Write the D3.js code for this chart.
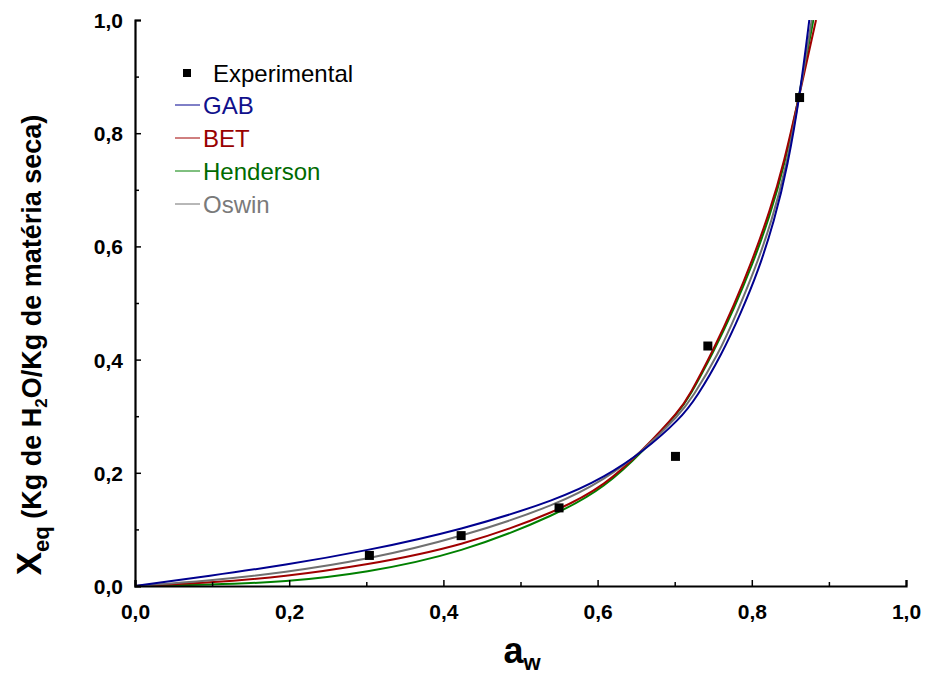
<!DOCTYPE html>
<html>
<head>
<meta charset="utf-8">
<script src="https://cdn.jsdelivr.net/npm/d3@7"></script>
<style>
  body { margin: 0; background: #fff; }
  svg { display: block; font-family: "Liberation Sans", Arial, sans-serif; }
</style>
</head>
<body>
<div id="container"></div>
<script>
// experimental points
let expAw = [0.304, 0.423, 0.550, 0.701, 0.743, 0.862];
let expX  = [0.054, 0.089, 0.138, 0.229, 0.424, 0.863];

// model curves
let gabAw = [0, 0.0973, 0.1946, 0.2983, 0.4228, 0.5503, 0.6096, 0.6589, 0.7069, 0.7285, 0.7610, 0.7860, 0.8080, 0.8292, 0.8466, 0.8625, 0.8746];
let gabX  = [0, 0.0180, 0.0370, 0.0618, 0.0988, 0.1535, 0.1928, 0.2370, 0.2950, 0.3330, 0.4090, 0.4830, 0.5550, 0.6450, 0.7420, 0.8680, 1.0];

let betAw = [0, 0.0973, 0.1946, 0.2983, 0.4228, 0.5503, 0.6096, 0.6589, 0.7069, 0.7185, 0.7510, 0.7769, 0.8003, 0.8236, 0.8418, 0.8612, 0.8833];
let betX  = [0, 0.0055, 0.0165, 0.0366, 0.0695, 0.1330, 0.1780, 0.2400, 0.3110, 0.3350, 0.4190, 0.4960, 0.5740, 0.6630, 0.7480, 0.8640, 1.0];

let hendAw = [0, 0.0973, 0.1946, 0.2983, 0.4228, 0.5503, 0.6096, 0.6589, 0.7069, 0.7185, 0.7510, 0.7769, 0.8003, 0.8236, 0.8418, 0.8612, 0.8798];
let hendX  = [0, 0.0020, 0.0070, 0.0230, 0.0580, 0.1280, 0.1750, 0.2380, 0.3100, 0.3330, 0.4150, 0.4900, 0.5660, 0.6540, 0.7400, 0.8640, 1.0];

let oswAw = [0, 0.0973, 0.1946, 0.2983, 0.4228, 0.5503, 0.6096, 0.6589, 0.7069, 0.7224, 0.7566, 0.7808, 0.8042, 0.8262, 0.8440, 0.8616, 0.8777];
let oswX  = [0, 0.0095, 0.0240, 0.0458, 0.0860, 0.1450, 0.1890, 0.2380, 0.3040, 0.3320, 0.4090, 0.4830, 0.5600, 0.6460, 0.7370, 0.8620, 1.0];

let majorTicks = [0, 0.2, 0.4, 0.6, 0.8, 1.0];
let minorTicks = [0.1, 0.3, 0.5, 0.7, 0.9];

let w = 927;
let h = 678;
let mLeft = 135, mRight = 906, mTop = 20, mBottom = 586;

let svg = d3.select("#container")
  .append("svg")
    .attr("width", w)
    .attr("height", h);

let x = d3.scaleLinear().domain([0, 1]).range([mLeft, mRight]);
let y = d3.scaleLinear().domain([0, 1]).range([mBottom, mTop]);

let fmt = d => d3.format(".1f")(d).replace(".", ",");

svg.append("clipPath").attr("id", "plot")
  .append("rect")
    .attr("x", mLeft).attr("y", mTop)
    .attr("width", mRight - mLeft).attr("height", mBottom - mTop);

// curves
let series = [
  { name: "GAB", aw: gabAw, xs: gabX, color: "#00008f", text: "#10108c" },
  { name: "BET", aw: betAw, xs: betX, color: "#a00000", text: "#990000" },
  { name: "Henderson", aw: hendAw, xs: hendX, color: "#008000", text: "#006a00" },
  { name: "Oswin", aw: oswAw, xs: oswX, color: "#707070", text: "#7a7a7a" }
];

let line = d3.line()
  .x(d => x(d[0]))
  .y(d => y(d[1]))
  .curve(d3.curveBasis);

let curves = svg.append("g").attr("clip-path", "url(#plot)");
// draw order: green, red, gray, blue on top
[2, 1, 3, 0].forEach(i => {
  let s = series[i];
  curves.append("path")
    .datum(s.aw.map((a, j) => [a, s.xs[j]]))
    .attr("fill", "none")
    .attr("stroke", s.color)
    .attr("stroke-width", 2)
    .attr("d", line);
});

// experimental squares
svg.append("g").selectAll("rect")
  .data(expAw.map((a, i) => [a, expX[i]]))
  .enter().append("rect")
    .attr("x", d => x(d[0]) - 4.5)
    .attr("y", d => y(d[1]) - 4.5)
    .attr("width", 9)
    .attr("height", 9)
    .attr("fill", "#000");

// axes
let xAxis = svg.append("g")
  .attr("transform", `translate(0,${mBottom})`)
  .call(d3.axisBottom(x).tickValues(majorTicks).tickFormat(fmt).tickSize(-6).tickPadding(14));
svg.append("g")
  .attr("transform", `translate(0,${mBottom})`)
  .call(d3.axisBottom(x).tickValues(minorTicks).tickFormat("").tickSize(-4))
  .select(".domain").remove();

let yAxis = svg.append("g")
  .attr("transform", `translate(${mLeft},0)`)
  .call(d3.axisLeft(y).tickValues(majorTicks).tickFormat(fmt).tickSize(-6).tickPadding(12));
svg.append("g")
  .attr("transform", `translate(${mLeft},0)`)
  .call(d3.axisLeft(y).tickValues(minorTicks).tickFormat("").tickSize(-4))
  .select(".domain").remove();

svg.selectAll(".domain").attr("stroke-width", 2.2);
svg.selectAll(".tick line").attr("stroke-width", 1.5);
svg.selectAll(".tick text")
  .attr("font-family", "Liberation Sans, Arial, sans-serif")
  .attr("font-size", 21)
  .attr("font-weight", "bold")
  .attr("fill", "#000");
xAxis.selectAll(".tick text").attr("dy", "0.9em");
yAxis.selectAll(".tick text").attr("dy", "0.36em");

// axis titles
let xt = svg.append("text")
  .attr("x", 522).attr("y", 663)
  .attr("text-anchor", "middle")
  .attr("font-weight", "bold")
  .attr("font-size", 36);
xt.append("tspan").text("a");
xt.append("tspan").attr("font-size", 22).attr("dy", 7).text("w");

let yt = svg.append("text")
  .attr("transform", "translate(41,345) rotate(-90)")
  .attr("text-anchor", "middle")
  .attr("font-weight", "bold")
  .attr("font-size", 27);
yt.append("tspan").attr("font-size", 35).text("X");
yt.append("tspan").attr("font-size", 22).attr("dy", 8).text("eq");
yt.append("tspan").attr("dy", -8).text(" (Kg de H");
yt.append("tspan").attr("font-size", 17).attr("dy", 6).text("2");
yt.append("tspan").attr("dy", -6).text("O/Kg de matéria seca)");

// legend
let lg = svg.append("g");
lg.append("rect")
  .attr("x", 183).attr("y", 69).attr("width", 8).attr("height", 8).attr("fill", "#000");
lg.append("text")
  .attr("x", 213).attr("y", 82)
  .attr("font-size", 24)
  .attr("fill", "#000")
  .text("Experimental");

series.forEach((s, i) => {
  let cy = 105 + i * 33;
  lg.append("line")
    .attr("x1", 175).attr("x2", 200)
    .attr("y1", cy).attr("y2", cy)
    .attr("stroke", s.color)
    .attr("stroke-width", 1);
  lg.append("text")
    .attr("x", 203).attr("y", cy + 8.5)
    .attr("font-size", 24)
    .attr("fill", s.text)
    .text(s.name);
});
</script>
</body>
</html>
